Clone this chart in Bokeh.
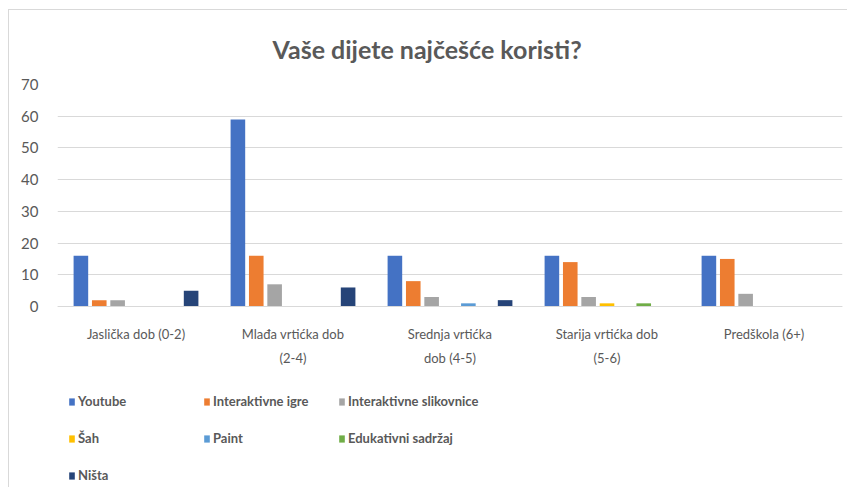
from bokeh.plotting import figure
from bokeh.models import FactorRange, Range1d, Legend, LegendItem, ColumnDataSource, FixedTicker
from bokeh.transform import dodge
from bokeh.embed import file_html
from bokeh.resources import INLINE

categories = ["Jaslička dob (0-2)", "Mlađa vrtićka dob\n(2-4)", "Srednja vrtićka\ndob (4-5)",
              "Starija vrtićka dob\n(5-6)", "Predškola (6+)"]
series_names = ["Youtube", "Interaktivne igre", "Interaktivne slikovnice", "Šah", "Paint",
                "Edukativni sadržaj", "Ništa"]
youtube = [16, 59, 16, 16, 16]
igre = [2, 16, 8, 14, 15]
slikovnice = [2, 7, 3, 3, 4]
sah = [0, 0, 0, 1, 0]
paint = [0, 0, 1, 0, 0]
edukativni = [0, 0, 0, 1, 0]
nista = [5, 6, 2, 0, 0]
colors = ["#4472C4", "#ED7D31", "#A5A5A5", "#FFC000", "#5B9BD5", "#70AD47", "#264478"]
y_ticks = [0, 10, 20, 30, 40, 50, 60, 70]

series_values = [youtube, igre, slikovnice, sah, paint, edukativni, nista]
keys = ["s%d" % i for i in range(7)]
data = {"cat": categories}
for k, v in zip(keys, series_values):
    data[k] = v
src = ColumnDataSource(data)

GRAY = "#595959"
FONT = "Lato"

# frame extends below the zero line to hold the category labels and the legend
Y_TOP = 70
Y_BOTTOM = -57.07

p = figure(x_range=FactorRange(*categories, range_padding=0), y_range=Range1d(Y_BOTTOM, Y_TOP),
           frame_width=785, frame_height=403, output_backend="svg", toolbar_location=None,
           min_border_left=48, min_border_right=5, min_border_top=74, min_border_bottom=0)
p.styles = {"margin-left": "8px", "margin-top": "9px",
            "border-left": "1px solid #d9d9d9", "border-top": "1px solid #d9d9d9"}

p.title.text = "Vaše dijete najčešće koristi?"
p.title.align = "left"
p.title.offset = 215
p.title.text_font = FONT
p.title.text_font_size = "25px"
p.title.text_font_style = "bold"
p.title.text_color = GRAY
p.title.standoff = 41

slot = 0.117
width = 0.093
items = []
for i, (k, name, c) in enumerate(zip(keys, series_names, colors)):
    r = p.vbar(x=dodge("cat", (i - 3) * slot, range=p.x_range), top=k, width=width,
               source=src, fill_color=c, line_color=None)
    items.append(LegendItem(label=name, renderers=[r]))

p.outline_line_color = None
p.xgrid.grid_line_color = None
p.ygrid.grid_line_color = "#d9d9d9"
p.ygrid.grid_line_width = 1

p.yaxis.ticker = FixedTicker(ticks=y_ticks)
p.yaxis.axis_line_color = None
p.yaxis.major_tick_line_color = None
p.yaxis.minor_tick_line_color = None
p.yaxis.major_label_text_font = FONT
p.yaxis.major_label_text_font_size = "15px"
p.yaxis.major_label_text_color = GRAY
p.yaxis.major_label_standoff = 13

p.xaxis.fixed_location = 0
p.xaxis.axis_line_color = "#d9d9d9"
p.xaxis.axis_line_width = 1
p.xaxis.major_tick_line_color = None
p.xaxis.minor_tick_line_color = None
p.xaxis.major_label_text_font = FONT
p.xaxis.major_label_text_font_size = "13px"
p.xaxis.major_label_text_color = GRAY
p.xaxis.major_label_standoff = 13
p.xaxis.major_label_text_line_height = 1.55

legend = Legend(items=items, ncols=3, orientation="horizontal", location=(11, 2))
legend.label_text_font = FONT
legend.label_text_font_size = "13px"
legend.label_text_font_style = "bold"
legend.label_text_color = GRAY
legend.glyph_width = 7
legend.glyph_height = 9
legend.label_standoff = 3
legend.label_height = 20
legend.label_width = 108
legend.spacing = 17
legend.padding = 0
legend.margin = 0
legend.border_line_color = None
legend.background_fill_color = None
p.add_layout(legend, "center")

open("out.html", "w").write(file_html(p, INLINE))
